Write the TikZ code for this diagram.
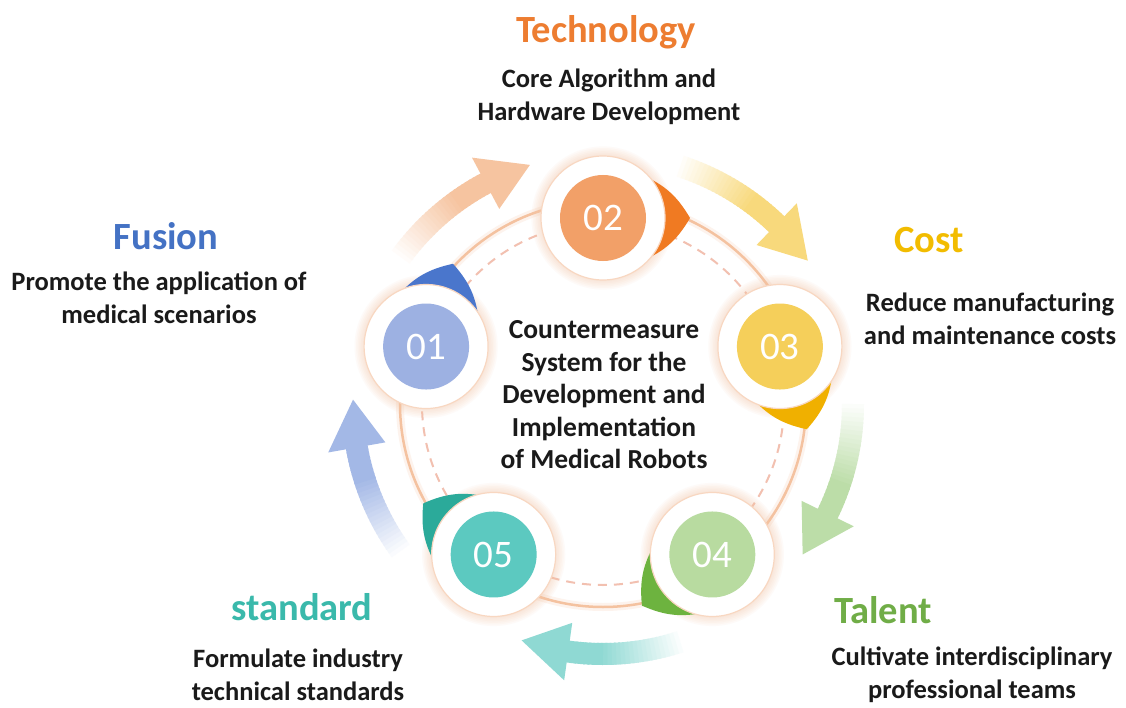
\documentclass[tikz,border=0pt]{standalone}
\usepackage{fontspec}
\setmainfont{Carlito}
\usetikzlibrary{positioning,calc}
\definecolor{MRtext}{HTML}{1A1A1A}
\definecolor{MRring}{HTML}{F4C2A0}
\definecolor{MRdash}{HTML}{F2C0B0}
% one colour set per step: title, disc, tab, outer arrow
\definecolor{ttlF}{HTML}{4472C4}
\definecolor{discF}{HTML}{9DB1E2}
\definecolor{tabF}{HTML}{4A76CC}
\definecolor{arrF}{HTML}{A3B8E6}
\definecolor{ttlT}{HTML}{ED7D31}
\definecolor{discT}{HTML}{F2A068}
\definecolor{tabT}{HTML}{F07A22}
\definecolor{arrT}{HTML}{F6C4A0}
\definecolor{ttlC}{HTML}{F2BC00}
\definecolor{discC}{HTML}{F5CF5A}
\definecolor{tabC}{HTML}{F0B000}
\definecolor{arrC}{HTML}{F8D97C}
\definecolor{ttlL}{HTML}{70AD47}
\definecolor{discL}{HTML}{B8DBA0}
\definecolor{tabL}{HTML}{6DB33F}
\definecolor{arrL}{HTML}{BCDDA8}
\definecolor{ttlS}{HTML}{3AB9AB}
\definecolor{discS}{HTML}{5CC9C0}
\definecolor{tabS}{HTML}{2BAA9A}
\definecolor{arrS}{HTML}{8FD9D3}
\tikzset{
  numdisc/.style={circle, minimum size=86pt, inner sep=0pt, text=white, font=\fontsize{39}{39}\selectfont},
  steptitle/.style={anchor=base, inner sep=0pt, font=\fontsize{38.5}{44}\selectfont\bfseries},
  stepdesc/.style={align=center, inner sep=0pt, text=MRtext, font=\fontsize{26.5}{33}\selectfont\bfseries},
  coretext/.style={align=center, inner sep=0pt, text=MRtext, font=\fontsize{27.5}{32.5}\selectfont\bfseries},
  ringline/.style={draw=MRring, line width=2.5pt},
  dashring/.style={draw=MRdash, line width=2pt, dash pattern=on 9pt off 7pt},
  halo/.style={fill=white, draw=MRring!65, line width=1.2pt}
}
\begin{document}
\begin{tikzpicture}[x=1pt, y=1pt]
\useasboundingbox (-603,-303) rectangle (523,404);
\fill[white] (-603,-303) rectangle (523,404);

% outer arrows, fading in from the tail
\foreach \s/\col in {144/arrT, 72/arrC, 0/arrL, -72/arrS, -144/arrF}{
  \foreach \j in {0,...,25}{
    \pgfmathsetmacro\aa{\s-\j}
    \pgfmathsetmacro\pct{min(100,(\j+1)*100/19)}
    \draw[color={\col!\pct!white}, line width=22pt] (\aa:250) arc[start angle=\aa, end angle=\aa-1.4, radius=250pt];
  }
  \fill[\col] (\s-37:250) -- (\s-26:279) -- (\s-26:221) -- cycle;
}

% rings
\draw[MRring, line width=8pt, opacity=0.18] (0,0) circle[radius=203pt];
\draw[ringline] (0,0) circle[radius=203pt];
\draw[dashring] (0,0) circle[radius=181pt];

\foreach \i/\a in {1/162, 2/90, 3/18, 4/-54, 5/-126}
  \coordinate (p\i) at (\a:186);

% halo glow
\foreach \i in {1,...,5}
  \foreach \k in {1,...,6}
    \fill[MRring, opacity=0.07] (p\i) circle[radius=62pt+\k*1.6pt];

% tabs pointing clockwise
\foreach \i/\a/\tc in {1/162/tabF, 2/90/tabT, 3/18/tabC, 4/-54/tabL, 5/-126/tabS}
  \fill[\tc] ([shift={(\a-42:58)}]p\i) to[bend left=18] ([shift={(\a-90:87)}]p\i)
    to[bend left=18] ([shift={(\a-138:58)}]p\i) -- cycle;

\foreach \i in {1,...,5}
  \filldraw[halo] (p\i) circle[radius=62pt];

\node[numdisc, fill=discF] (n1) at (p1) {01};
\node[numdisc, fill=discT] (n2) at (p2) {02};
\node[numdisc, fill=discC] (n3) at (p3) {03};
\node[numdisc, fill=discL] (n4) at (p4) {04};
\node[numdisc, fill=discS] (n5) at (p5) {05};

\node[coretext] (core) at (1,9) {Countermeasure\\System for the\\Development and\\Implementation\\of Medical Robots};

% titles and descriptions
\node[steptitle, text=ttlT] (tech) at (3,361) {Technology};
\node[stepdesc] (techd) at (6,307) {Core Algorithm and\\Hardware Development};
\node[steptitle, text=ttlF] (fus) at (-437,154) {Fusion};
\node[stepdesc] (fusd) at (-444,106) {Promote the application of\\medical scenarios};
\node[steptitle, text=ttlC] (cost) at (326,152) {Cost};
\node[stepdesc] (costd) at (387,85) {Reduce manufacturing\\and maintenance costs};
\node[steptitle, text=ttlL] (tal) at (280,-219) {Talent};
\node[stepdesc] (tald) at (369,-271) {Cultivate interdisciplinary\\professional teams};
\node[steptitle, text=ttlS] (std) at (-301,-216) {standard};
\node[stepdesc] (stdd) at (-305,-271) {Formulate industry\\technical standards};
\end{tikzpicture}
\end{document}
